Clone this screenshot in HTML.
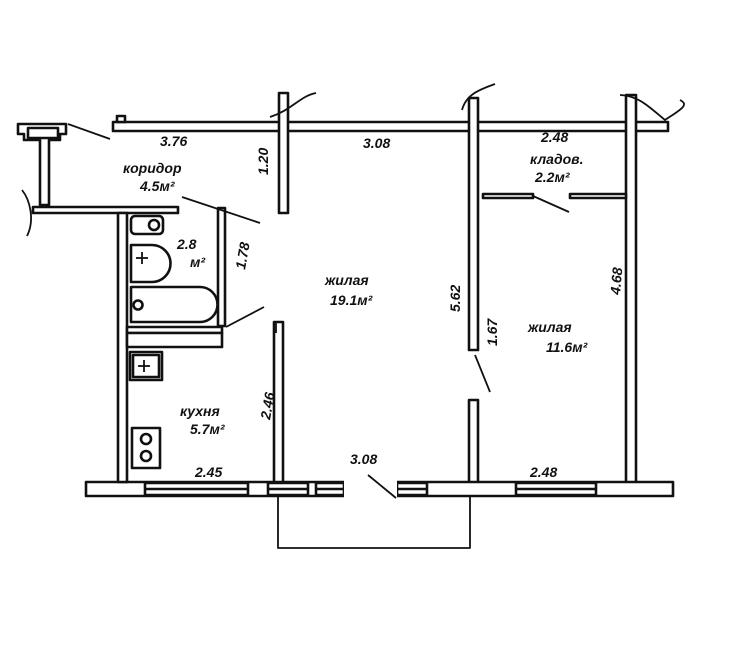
<!DOCTYPE html>
<html><head><meta charset="utf-8"><style>
html,body{margin:0;padding:0;background:#fff}
svg{display:block}
text{font-family:"Liberation Sans","DejaVu Sans",sans-serif;font-style:italic;fill:#111;font-size:14px}
</style></head><body>
<svg width="750" height="645" viewBox="0 0 750 645" xmlns="http://www.w3.org/2000/svg">
<g fill="#fff" stroke="#111" stroke-width="2.6" stroke-linejoin="round">
<rect x="113" y="122" width="555" height="9"/>
<rect x="117" y="116" width="8" height="6"/>
<rect x="279" y="93" width="9" height="120"/>
<rect x="469" y="98" width="9" height="252"/>
<rect x="469" y="400" width="9" height="84"/>
<rect x="626" y="95" width="10" height="389"/>
<rect x="86" y="482" width="587" height="14"/>
<rect x="145" y="483" width="103" height="12"/>
<line x1="145" y1="489" x2="248" y2="489"/>
<rect x="268" y="483" width="40" height="12"/>
<line x1="268" y1="489" x2="308" y2="489"/>
<rect x="316" y="483" width="28" height="12"/>
<line x1="316" y1="489" x2="344" y2="489"/>
<rect x="397" y="483" width="30" height="12"/>
<line x1="397" y1="489" x2="427" y2="489"/>
<rect x="516" y="483" width="80" height="12"/>
<line x1="516" y1="489" x2="596" y2="489"/>
<rect x="344" y="480" width="53" height="18" stroke="none"/>
<polyline points="278,496 278,548 470,548 470,496" fill="none" stroke-width="1.8"/>
<path d="M18,124 H66 V134 H60 V140 H49 V205 H40 V140 H24 V134 H18 Z"/>
<rect x="28" y="128" width="30" height="10"/>
<rect x="33" y="207" width="145" height="6"/>
<rect x="118" y="213" width="9" height="269"/>
<rect x="218" y="208" width="7" height="118"/>
<rect x="127" y="327" width="95" height="6"/>
<rect x="127" y="333" width="95" height="14"/>
<rect x="274" y="322" width="9" height="160"/>
<rect x="483" y="194" width="50" height="4"/>
<rect x="570" y="194" width="56" height="4"/>
<rect x="131" y="216" width="32" height="18" rx="4"/>
<circle cx="154" cy="225" r="5"/>
<path d="M131,245 H152 A18,18 0 0 1 152,282 H131 Z"/>
<path d="M131,287 H200 A15,15 0 0 1 200,322 H131 Z"/>
<circle cx="138" cy="305" r="4.5"/>
<rect x="130" y="352" width="32" height="28"/>
<rect x="133" y="355" width="26" height="22"/>
<rect x="132" y="428" width="28" height="40"/>
<circle cx="146" cy="439" r="5"/>
<circle cx="146" cy="456" r="5"/>
</g>
<g stroke="#111" stroke-width="1.8" fill="none">
<line x1="136" y1="258" x2="148" y2="258"/><line x1="142" y1="252" x2="142" y2="264"/>
<line x1="138" y1="366" x2="150" y2="366"/><line x1="144" y1="360" x2="144" y2="372"/>
<line x1="68" y1="124" x2="110" y2="139"/>
<line x1="182" y1="197" x2="260" y2="223"/>
<line x1="226" y1="327" x2="264" y2="307"/>
<line x1="533" y1="196" x2="569" y2="212"/>
<line x1="475" y1="355" x2="490" y2="392"/>
<line x1="368" y1="475" x2="396" y2="498"/>
<path d="M270,117 C292,110 300,96 316,93"/>
<path d="M462,110 C466,95 478,90 495,84"/>
<path d="M620,95 C640,96 650,108 665,120 C680,110 690,105 680,100"/>
<path d="M22,190 C30,200 35,220 27,236"/>
<path d="M276,333 V322 H283"/>
</g>
<g font-weight="bold">
<text x="160" y="146">3.76</text>
<text x="363" y="148">3.08</text>
<text x="541" y="142">2.48</text>
<text x="123" y="173" font-size="16">коридор</text>
<text x="140" y="191">4.5м²</text>
<text x="530" y="164" font-size="16">кладов.</text>
<text x="535" y="182">2.2м²</text>
<text x="177" y="249">2.8</text>
<text x="190" y="267" font-size="11">м²</text>
<text x="325" y="285" font-size="16">жилая</text>
<text x="330" y="305">19.1м²</text>
<text x="528" y="332" font-size="16">жилая</text>
<text x="546" y="352">11.6м²</text>
<text x="180" y="416" font-size="15">кухня</text>
<text x="190" y="434">5.7м²</text>
<text x="195" y="477">2.45</text>
<text x="350" y="464">3.08</text>
<text x="530" y="477">2.48</text>
<text transform="translate(268,175) rotate(-90)">1.20</text>
<text transform="translate(245,270) rotate(-80)">1.78</text>
<text transform="translate(270,420) rotate(-80)">2.46</text>
<text transform="translate(460,312) rotate(-90)">5.62</text>
<text transform="translate(497,346) rotate(-90)">1.67</text>
<text transform="translate(620,295) rotate(-85)">4.68</text>
</g>
</svg>
</body></html>
